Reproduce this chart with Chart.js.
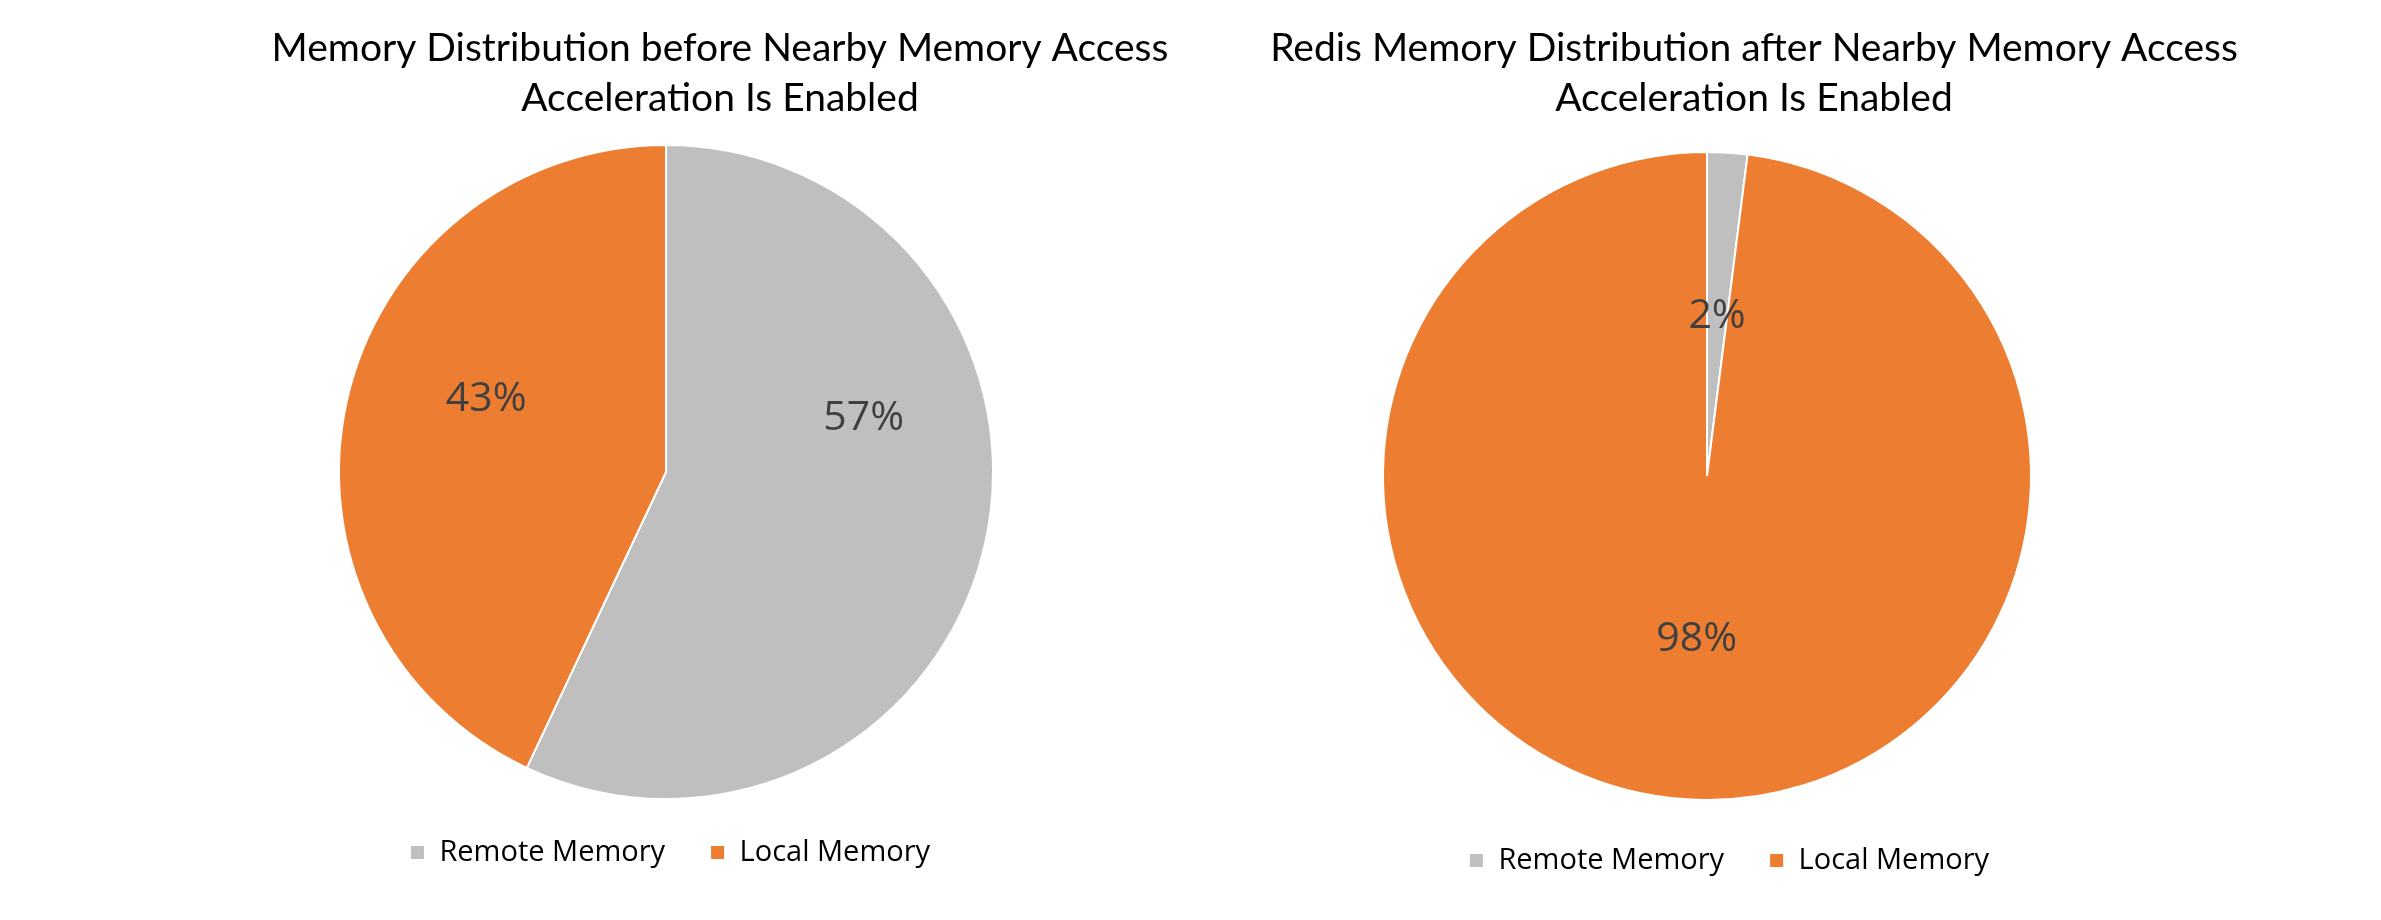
<!DOCTYPE html>
<html><head><meta charset="utf-8">
<script src="https://cdn.jsdelivr.net/npm/chart.js@4/dist/chart.umd.min.js"></script>
<style>
html,body{margin:0;padding:0;background:#fff;overflow:hidden;width:2381px;height:920px;}
.box{position:absolute;top:0;height:1000px;}
#c1box{left:200px;width:1040px;}
#c2box{left:1240px;width:1028px;}
</style></head><body>
<div id="c1box" class="box"><canvas id="c1"></canvas></div>
<div id="c2box" class="box"><canvas id="c2"></canvas></div>
<script>
const categories = ['Remote Memory', 'Local Memory'];
const beforeValues = [57, 43];
const afterValues = [2, 98];
const beforeTitle = ['Memory Distribution before Nearby Memory Access', 'Acceleration Is Enabled'];
const afterTitle = ['Redis Memory Distribution after Nearby Memory Access', 'Acceleration Is Enabled'];
const sliceColors = ['#BFBFBF', '#ED7D31'];

const shiftPlugin = {
  id: 'shift',
  afterLayout(chart, args, opts) {
    const t = chart.titleBlock;
    if (t) {
      const c = (t.left + t.right) / 2 + (opts.titleDx || 0);
      t.left = c - 560; t.right = c + 560; t.width = 1120;
    }
    const l = chart.legend;
    if (l) {
      l.left += opts.legendDx || 0; l.right += opts.legendDx || 0;
      l.top += opts.legendDy || 0; l.bottom += opts.legendDy || 0;
    }
  }
};

const pctLabels = {
  id: 'pctLabels',
  afterDatasetsDraw(chart, args, opts) {
    const ctx = chart.ctx;
    const ds = chart.data.datasets[0];
    const total = ds.data.reduce((a, b) => a + b, 0);
    const meta = chart.getDatasetMeta(0);
    ctx.save();
    ctx.font = opts.font;
    ctx.fillStyle = opts.color;
    ctx.textAlign = 'center';
    ctx.textBaseline = 'middle';
    meta.data.forEach((arc, i) => {
      const p = arc.getProps(['x', 'y', 'startAngle', 'endAngle', 'outerRadius'], true);
      const a = (p.startAngle + p.endAngle) / 2 + (opts.angleShift[i] || 0) * Math.PI / 180;
      const r = p.outerRadius * opts.radius[i];
      ctx.fillText(Math.round(ds.data[i] / total * 100) + '%', p.x + r * Math.cos(a), p.y + r * Math.sin(a));
    });
    ctx.restore();
  }
};

function makeChart(id, values, title, cfg) {
  return new Chart(document.getElementById(id), {
    type: 'pie',
    data: {
      labels: categories,
      datasets: [{ data: values, backgroundColor: sliceColors, borderColor: '#ffffff', borderWidth: 2, hoverOffset: 0 }]
    },
    options: {
      responsive: true, maintainAspectRatio: false, animation: false, events: [],
      layout: { padding: { left: cfg.padL, right: cfg.padR, top: 0, bottom: cfg.padB } },
      plugins: {
        title: {
          display: true, text: title, color: '#000000',
          font: { family: 'Lato', size: 39, lineHeight: 50 / 39, weight: 'normal' },
          padding: { top: 23, bottom: cfg.titleGap }
        },
        legend: {
          display: true, position: 'bottom', fullSize: false,
          labels: { color: '#000000', font: { family: 'Open Sans', size: 29 }, boxWidth: 15, boxHeight: 15, padding: 45 }
        },
        tooltip: { enabled: false },
        shift: { titleDx: cfg.titleDx, legendDx: cfg.legendDx, legendDy: cfg.legendDy },
        pctLabels: { font: '41px "Open Sans"', color: '#404040', angleShift: cfg.angleShift, radius: cfg.radius }
      }
    },
    plugins: [shiftPlugin, pctLabels]
  });
}

makeChart('c1', beforeValues, beforeTitle, {
  padL: 138, padR: 246, padB: 116, titleGap: 21,
  titleDx: 54, legendDx: 4, legendDy: -7,
  angleShift: [-27.9, 9.4], radius: [0.627, 0.593]
});
makeChart('c2', afterValues, afterTitle, {
  padL: 142, padR: 236, padB: 115, titleGap: 28,
  titleDx: 47, legendDx: 22, legendDy: 0,
  angleShift: [0, 0], radius: [0.495, 0.504]
});
</script>
</body></html>
